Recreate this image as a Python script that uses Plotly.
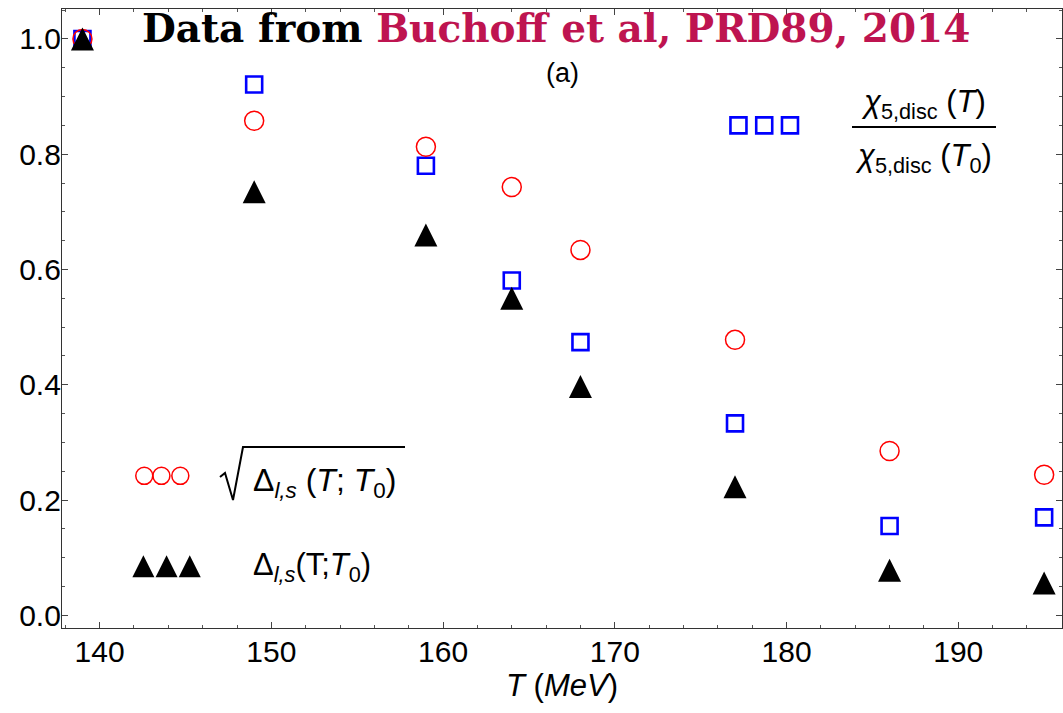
import plotly.graph_objects as go

# Temperatures (MeV) and normalised observables
T_MeV = [139, 149, 159, 164, 168, 177, 186, 195]
chi5_ratio = [1.0, 0.921, 0.780, 0.581, 0.474, 0.333, 0.155, 0.170]
sqrt_delta_ls = [1.0, 0.858, 0.813, 0.743, 0.634, 0.478, 0.285, 0.244]
delta_ls = [1.0, 0.735, 0.660, 0.550, 0.397, 0.223, 0.078, 0.056]

# Key samples drawn next to the formula labels
key_square_T = [177.2, 178.7, 180.2]
key_square_y = [0.85, 0.85, 0.85]
key_circle_T = [142.6, 143.6, 144.7]
key_circle_y = [0.242, 0.242, 0.242]
key_triangle_T = [142.55, 143.9, 145.25]
key_triangle_y = [0.085, 0.085, 0.085]

x_ticks = [140, 150, 160, 170, 180, 190]
y_ticks = [0.0, 0.2, 0.4, 0.6, 0.8, 1.0]

W, H = 1063, 713
L, R, TOP, B = 62, 1, 9, 85
PW, PH = W - L - R, H - TOP - B


def px(x):
    return (x - L) / PW


def py(y):
    return (H - B - y) / PH


SANS = "Liberation Sans"
square_style = dict(symbol="square-open", size=16, color="#0000FF",
                    line=dict(color="#0000FF", width=2.6))
circle_style = dict(symbol="circle-open", size=19, color="#FF0000",
                    line=dict(color="#FF0000", width=1.5))
# upward triangle with equal width and height, centred on the point
tri_style = dict(symbol="arrow-down", angle=180, size=23, standoff=11.5, color="black",
                 line=dict(width=0))

fig = go.Figure()
fig.add_trace(go.Scatter(x=T_MeV, y=chi5_ratio, mode="markers", marker=square_style))
fig.add_trace(go.Scatter(x=T_MeV, y=sqrt_delta_ls, mode="markers", marker=circle_style))
fig.add_trace(go.Scatter(x=T_MeV, y=delta_ls, mode="markers", marker=tri_style))

fig.add_trace(go.Scatter(x=key_square_T, y=key_square_y, mode="markers", marker=square_style))
fig.add_trace(go.Scatter(x=key_circle_T, y=key_circle_y, mode="markers",
                         marker=dict(circle_style, size=17)))
fig.add_trace(go.Scatter(x=key_triangle_T, y=key_triangle_y, mode="markers",
                         marker=dict(tri_style, size=22, standoff=11)))

axis_common = dict(
    showline=True, linecolor="#333333", linewidth=1.3, mirror="ticks",
    ticks="inside", ticklen=6, tickwidth=1.1, tickcolor="#444444",
    showgrid=False, zeroline=False,
    tickfont=dict(family=SANS, size=30, color="black"),
)

fig.update_xaxes(
    range=[137.81, 196.04], tickvals=x_ticks, ticklabelstandoff=-3,
    minor=dict(dtick=2, tick0=140, ticks="inside", ticklen=3, tickcolor="#555555"),
    title=dict(text="<i>T</i> (<i>MeV</i>)", font=dict(family=SANS, size=31, color="black"),
               standoff=4),
    **axis_common,
)
fig.update_yaxes(
    range=[-0.022, 1.052], tickvals=y_ticks, tickformat=".1f", ticklabelstandoff=-6,
    minor=dict(dtick=0.05, tick0=0, ticks="inside", ticklen=3, tickcolor="#555555"),
    **axis_common,
)

annotations = [
    dict(x=px(556), y=py(28), text="<b>Data from <span style='color:#BE1450'>Buchoff et al, PRD89, 2014</span></b>",
         font=dict(family="DejaVu Serif", size=39, color="black")),
    dict(x=px(562), y=py(73), text="(a)", font=dict(family=SANS, size=27, color="black")),
    dict(x=px(923), y=py(104), text="<i>χ</i><sub>5,disc</sub> (<i>T</i>)",
         font=dict(family=SANS, size=31, color="black")),
    dict(x=px(923), y=py(158), text="<i>χ</i><sub>5,disc</sub> (<i>T</i><sub>0</sub>)",
         font=dict(family=SANS, size=31, color="black")),
    dict(x=px(324), y=py(482), text="Δ<sub><i>l,s</i></sub> (<i>T</i>; <i>T</i><sub>0</sub>)",
         font=dict(family=SANS, size=32, color="black")),
    dict(x=px(312), y=py(567), text="Δ<sub><i>l,s</i></sub>(T;<i>T</i><sub>0</sub>)",
         font=dict(family=SANS, size=31, color="black")),
]
for a in annotations:
    a.update(xref="paper", yref="paper", showarrow=False, xanchor="center", yanchor="middle")

radical = [(220, 477), (225, 473), (233, 500), (243, 447), (405, 447)]
rad_path = "M" + " L".join(f"{px(x):.4f},{py(y):.4f}" for x, y in radical)

shapes = [
    dict(type="line", xref="paper", yref="paper", x0=px(852), x1=px(996), y0=py(127), y1=py(127),
         line=dict(color="black", width=2)),
    dict(type="path", xref="paper", yref="paper", path=rad_path,
         line=dict(color="black", width=2)),
]

fig.update_layout(
    width=W, height=H,
    margin=dict(l=L, r=R, t=TOP, b=B),
    paper_bgcolor="white", plot_bgcolor="white",
    showlegend=False,
    annotations=annotations,
    shapes=shapes,
)

fig.write_html("out.html")
